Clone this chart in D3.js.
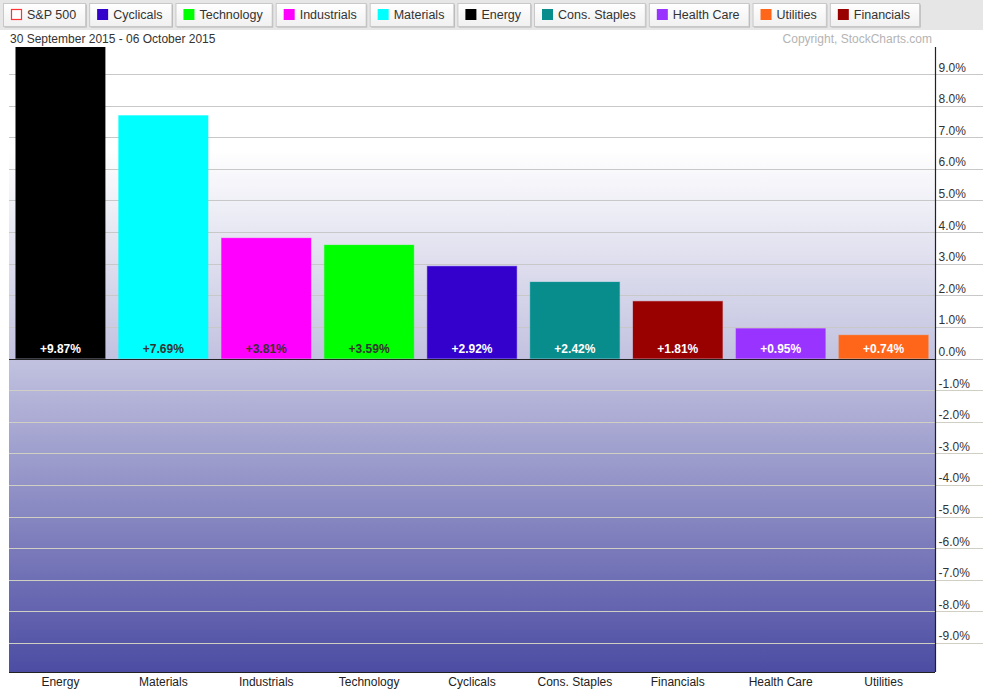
<!DOCTYPE html>
<html><head><meta charset="utf-8">
<script src="https://cdn.jsdelivr.net/npm/d3@7"></script>
<style>
html,body{margin:0;padding:0;background:#fff;}
svg{display:block;font-family:"Liberation Sans",Arial,sans-serif;}
</style></head>
<body>
<script>
const categories = ["Energy","Materials","Industrials","Technology","Cyclicals","Cons. Staples","Financials","Health Care","Utilities"];
const values = [9.87, 7.69, 3.81, 3.59, 2.92, 2.42, 1.81, 0.95, 0.74];
const barColors = ["#000000","#00ffff","#ff00ff","#00ff00","#3300cc","#088c8c","#990000","#9933ff","#ff6619"];
const labelColors = ["#ffffff","#333333","#333333","#333333","#ffffff","#ffffff","#ffffff","#ffffff","#ffffff"];
const legendNames = ["S&P 500","Cyclicals","Technology","Industrials","Materials","Energy","Cons. Staples","Health Care","Utilities","Financials"];
const legendColors = [null,"#3300cc","#00ff00","#ff00ff","#00ffff","#000000","#088c8c","#9933ff","#ff6619","#990000"];
const yTicks = [-9,-8,-7,-6,-5,-4,-3,-2,-1,0,1,2,3,4,5,6,7,8,9];
const dateRange = "30 September 2015 - 06 October 2015";
const copyright = "Copyright, StockCharts.com";

const W = 983, H = 693;
const plot = {left: 9, right: 935, top: 47, bottom: 672};
const svg = d3.select("body").append("svg").attr("width", W).attr("height", H);
const defs = svg.append("defs");

const y = d3.scaleLinear().domain([-9.92, 9.857]).range([plot.bottom, plot.top]);
const x = d3.scaleBand().domain(categories).range([plot.left, plot.right]).paddingInner(0.13).paddingOuter(0.065);

// background gradient
const g0 = defs.append("linearGradient").attr("id","bg").attr("gradientUnits","userSpaceOnUse")
  .attr("x1",0).attr("x2",0).attr("y1",plot.top).attr("y2",plot.bottom);
const frac = v => (v - plot.top) / (plot.bottom - plot.top);
g0.append("stop").attr("offset", frac(150)).attr("stop-color","#ffffff");
g0.append("stop").attr("offset", frac(y(0))).attr("stop-color","#c2c2e0");
g0.append("stop").attr("offset", 1).attr("stop-color","#4c4ca3");

defs.append("clipPath").attr("id","clip").append("rect")
  .attr("x",plot.left).attr("y",plot.top).attr("width",plot.right-plot.left).attr("height",plot.bottom-plot.top);

// top legend band
svg.append("rect").attr("x",0).attr("y",0).attr("width",W).attr("height",30).attr("fill","#e6e6e6");
const bg = defs.append("linearGradient").attr("id","btn").attr("x1",0).attr("x2",0).attr("y1",0).attr("y2",1);
bg.append("stop").attr("offset",0).attr("stop-color","#ffffff");
bg.append("stop").attr("offset",1).attr("stop-color","#f0f0f0");

let lx = 3;
legendNames.forEach((name, i) => {
  const g = svg.append("g");
  const t = g.append("text").attr("x", lx + 24).attr("y", 18.5).attr("font-size", 12.5).attr("fill","#333").text(name);
  const tw = t.node().getComputedTextLength();
  const bw = tw + 33;
  g.insert("rect","text").attr("x", lx + 1.5).attr("y", 4.5).attr("width", bw).attr("height", 23).attr("fill","#b0b0b0");
  g.insert("rect","text").attr("x", lx + 0.5).attr("y", 3.5).attr("width", bw).attr("height", 23)
    .attr("fill","url(#btn)").attr("stroke","#c8c8c8");
  if (legendColors[i]) {
    g.append("rect").attr("x", lx + 8).attr("y", 9).attr("width", 11).attr("height", 11).attr("fill", legendColors[i]);
  } else {
    g.append("rect").attr("x", lx + 8.5).attr("y", 9.5).attr("width", 10).attr("height", 10).attr("fill","#fff").attr("stroke","#ff3333").attr("stroke-width",1.2);
  }
  lx += bw + 4;
});

// header texts
svg.append("text").attr("x", 10).attr("y", 43).attr("font-size", 12).attr("fill","#333").text(dateRange);
svg.append("text").attr("x", 932).attr("y", 43).attr("text-anchor","end").attr("font-size", 12).attr("fill","#b4b4b4").text(copyright);

// plot background
svg.append("rect").attr("x",plot.left).attr("y",plot.top).attr("width",plot.right-plot.left).attr("height",plot.bottom-plot.top).attr("fill","url(#bg)");

// gridlines (extend across axis label area)
svg.append("g").selectAll("line").data(yTicks.filter(d => d !== 0)).join("line")
  .attr("x1", plot.left).attr("x2", W)
  .attr("y1", d => Math.round(y(d)) + 0.5).attr("y2", d => Math.round(y(d)) + 0.5)
  .attr("stroke", d => d > 0 ? "#c8c8c8" : "#cfcfc4").attr("stroke-width", 1.2);

// bars
const bars = svg.append("g").attr("clip-path","url(#clip)");
bars.selectAll("rect").data(categories).join("rect")
  .attr("x", d => x(d))
  .attr("width", x.bandwidth())
  .attr("y", (d, i) => y(Math.max(0, values[i])))
  .attr("height", (d, i) => Math.abs(y(values[i]) - y(0)))
  .attr("fill", (d, i) => barColors[i])
  .attr("stroke", (d, i) => d3.color(barColors[i]).brighter(0.4))
  .attr("stroke-opacity", 0.35)
  .attr("stroke-width", 1);

// bar value labels
svg.append("g").selectAll("text").data(categories).join("text")
  .attr("x", d => x(d) + x.bandwidth() / 2)
  .attr("y", y(0) - 5.5)
  .attr("text-anchor","middle")
  .attr("font-size", 12).attr("font-weight","bold")
  .attr("fill", (d, i) => labelColors[i])
  .text((d, i) => (values[i] >= 0 ? "+" : "") + values[i].toFixed(2) + "%");

// zero line, axis line, bottom line
svg.append("line").attr("x1", plot.left).attr("x2", plot.right).attr("y1", Math.round(y(0)) + 0.5).attr("y2", Math.round(y(0)) + 0.5).attr("stroke","#222").attr("stroke-width",1.2);
svg.append("line").attr("x1", plot.right).attr("x2", W).attr("y1", Math.round(y(0)) + 0.5).attr("y2", Math.round(y(0)) + 0.5).attr("stroke","#c8c8c8").attr("stroke-width",1.2);
svg.append("line").attr("x1", plot.left).attr("x2", plot.right).attr("y1", plot.bottom + 0.5).attr("y2", plot.bottom + 0.5).attr("stroke","#222").attr("stroke-width",1.2);

// right axis
const yAxis = d3.axisRight(y).tickValues(yTicks).tickSize(0).tickPadding(3)
  .tickFormat(d => (d < 0 ? "-" : "") + Math.abs(d).toFixed(1) + "%");
const ax = svg.append("g").attr("transform", `translate(${plot.right + 0.5},0)`).call(yAxis);
ax.select(".domain").attr("stroke","#222").attr("stroke-width",1.2).attr("d", `M0,${plot.top}V${plot.bottom}`);
ax.selectAll("text").attr("font-size", 12).attr("fill","#333").attr("font-family","Liberation Sans, Arial, sans-serif").attr("dy","-0.25em");

// x axis labels
const xAxis = d3.axisBottom(x).tickSize(0).tickPadding(5);
const xa = svg.append("g").attr("transform", `translate(0,${plot.bottom})`).call(xAxis);
xa.select(".domain").remove();
xa.selectAll("text").attr("font-size", 12).attr("fill","#222").attr("font-family","Liberation Sans, Arial, sans-serif");
</script>
</body></html>
